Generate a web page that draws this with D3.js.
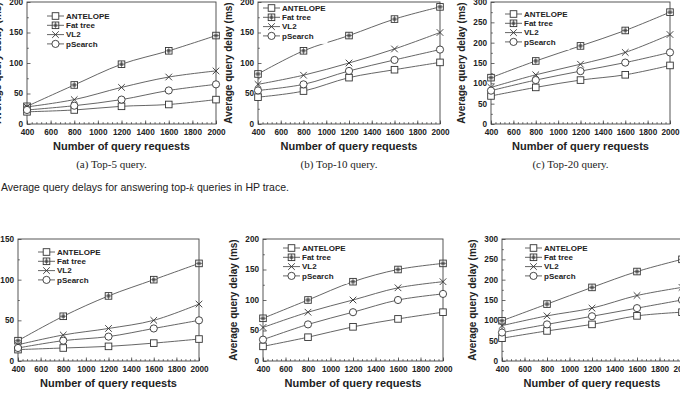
<!DOCTYPE html>
<html>
<head>
<meta charset="utf-8">
<script src="https://cdn.jsdelivr.net/npm/d3@7"></script>
<style>
  html, body { margin: 0; padding: 0; background: #fff; }
  svg { display: block; }
  .tick text { font-family: "Liberation Sans", Arial, sans-serif; font-weight: bold; font-size: 8.2px; fill: #222; }
  .tick line { stroke: #444; stroke-width: 0.8; }
  .axis-title { font-family: "Liberation Sans", Arial, sans-serif; font-weight: bold; fill: #222; }
  .legend-text { font-family: "Liberation Sans", Arial, sans-serif; font-weight: bold; font-size: 8px; fill: #222; }
  .caption { font-family: "Liberation Serif", "Times New Roman", serif; font-size: 11px; fill: #222; }
  .fig-caption { font-family: "Liberation Sans", Arial, sans-serif; font-size: 10.5px; fill: #222; }
</style>
</head>
<body>
<div id="chart"></div>
<script>
// Sechs Teilbilder: Abfrageverzögerung über Anzahl der Anfragen

const XS = [400, 800, 1200, 1600, 2000];
const X_TICKS = [400, 600, 800, 1000, 1200, 1400, 1600, 1800, 2000];
const SERIES = ["ANTELOPE", "Fat tree", "VL2", "pSearch"];

// Werte pro Teilbild, Reihenfolge wie SERIES
const hpTop5 = [
  [20, 23, 29, 32, 40],
  [29, 64, 98, 120, 145],
  [28, 40, 60, 77, 87],
  [23, 30, 40, 55, 65]
];
const hpTop10 = [
  [44, 54, 76, 89, 101],
  [82, 120, 145, 172, 192],
  [65, 80, 100, 123, 150],
  [55, 65, 87, 105, 122]
];
const hpTop20 = [
  [69, 90, 108, 121, 144],
  [114, 155, 192, 230, 275],
  [90, 121, 147, 176, 220],
  [82, 108, 130, 151, 176]
];
const row2Top5 = [
  [14, 16, 18, 22, 27],
  [25, 55, 80, 100, 120],
  [20, 32, 40, 50, 70],
  [16, 25, 30, 40, 50]
];
const row2Top10 = [
  [24, 39, 56, 69, 80],
  [70, 100, 130, 150, 160],
  [55, 80, 100, 120, 130],
  [35, 60, 80, 100, 110]
];
const row2Top20 = [
  [56, 74, 90, 111, 120],
  [99, 140, 181, 220, 250],
  [87, 111, 130, 161, 181],
  [70, 90, 110, 130, 150]
];

const Y_MAX = [200, 200, 300, 150, 200, 300];
const CAPTIONS = ["(a) Top-5 query.", "(b) Top-10 query.", "(c) Top-20 query."];
const X_TITLE = "Number of query requests";
const Y_TITLE = "Average query delay (ms)";
const FIG_CAPTION = ["Average query delays for answering top-", "k", " queries in HP trace."];

// Lage der Plotflächen (Pixel)
const layout = [
  { data: hpTop5,    l: 27,  r: 216, t: 2,   b: 124, leg: [20, 14], cap: 0 },
  { data: hpTop10,   l: 258, r: 440, t: 2,   b: 124, leg: [5, 6],   cap: 1 },
  { data: hpTop20,   l: 491, r: 670, t: 2,   b: 124, leg: [14, 12], cap: 2 },
  { data: row2Top5,  l: 18,  r: 199, t: 239, b: 361, leg: [20, 13] },
  { data: row2Top10, l: 263, r: 443, t: 239, b: 361, leg: [20, 9] },
  { data: row2Top20, l: 502, r: 682, t: 239, b: 361, leg: [23, 9] }
];

const W = 680, H = 395;
const svg = d3.select("#chart").append("svg")
  .attr("width", W).attr("height", H)
  .attr("viewBox", `0 0 ${W} ${H}`);

const LINE_COLOR = "#555";
const MARK_COLOR = "#333";
const fmt = d3.format("d");

function drawMarker(g, k, x, y) {
  const s = 3.3;
  const m = g.append("g").attr("transform", `translate(${x},${y})`)
    .attr("fill", "#fff").attr("stroke", MARK_COLOR).attr("stroke-width", 0.9);
  if (k === 0) {
    m.append("rect").attr("x", -s).attr("y", -s).attr("width", 2 * s).attr("height", 2 * s);
  } else if (k === 1) {
    m.append("rect").attr("x", -s).attr("y", -s).attr("width", 2 * s).attr("height", 2 * s);
    m.append("rect").attr("x", -1.8).attr("y", -1.8).attr("width", 3.6).attr("height", 3.6)
      .attr("fill", "#888").attr("stroke", "none");
    m.append("path").attr("d", `M${-s},0H${s}M0,${-s}V${s}`).attr("stroke-width", 0.6);
  } else if (k === 2) {
    m.append("path").attr("d", `M${-s},${-s}L${s},${s}M${-s},${s}L${s},${-s}`).attr("fill", "none");
  } else {
    m.append("circle").attr("r", s + 0.3);
  }
}

const lineGen = d3.line().curve(d3.curveCatmullRom.alpha(0.5));

layout.forEach((p, idx) => {
  const x = d3.scaleLinear().domain([400, 2000]).range([p.l, p.r]);
  const y = d3.scaleLinear().domain([0, Y_MAX[idx]]).range([p.b, p.t]);
  const g = svg.append("g");
  const yTicks = d3.range(0, Y_MAX[idx] + 1, 50);

  // Nebenstriche
  g.append("g").attr("transform", `translate(0,${p.b})`)
    .call(d3.axisBottom(x).tickValues(d3.range(400, 2001, 40)).tickSize(-1.8).tickFormat(""))
    .call(a => a.select(".domain").remove());
  g.append("g").attr("transform", `translate(${p.l},0)`)
    .call(d3.axisLeft(y).tickValues(d3.range(25, Y_MAX[idx], 50)).tickSize(-1.8).tickFormat(""))
    .call(a => a.select(".domain").remove());

  // Achsen
  g.append("g").attr("transform", `translate(0,${p.b})`)
    .call(d3.axisBottom(x).tickValues(X_TICKS).tickSize(-3.5).tickPadding(5).tickFormat(fmt))
    .call(a => a.select(".domain").remove());
  g.append("g").attr("transform", `translate(${p.l},0)`)
    .call(d3.axisLeft(y).tickValues(yTicks).tickSize(-3.5).tickPadding(4).tickFormat(fmt))
    .call(a => a.select(".domain").remove())
    .selectAll("text").attr("dy", "0.3em");

  // Rahmen
  g.append("rect")
    .attr("x", p.l).attr("y", p.t)
    .attr("width", p.r - p.l).attr("height", p.b - p.t)
    .attr("fill", "none").attr("stroke", "#444").attr("stroke-width", 0.9);

  // Linien
  p.data.forEach((vals) => {
    g.append("path")
      .attr("d", lineGen(vals.map((v, i) => [x(XS[i]), y(v)])))
      .attr("fill", "none").attr("stroke", LINE_COLOR).attr("stroke-width", 0.9);
  });

  // Legende (weißer Hintergrund deckt Linien ab)
  const lg = g.append("g");
  const bg = lg.append("rect").attr("fill", "#fff");
  const lx = p.l + p.leg[0];
  let maxEnd = 0;
  SERIES.forEach((name, k) => {
    const ry = p.t + p.leg[1] + k * 9.3;
    lg.append("line").attr("x1", lx).attr("x2", lx + 17).attr("y1", ry).attr("y2", ry)
      .attr("stroke", LINE_COLOR).attr("stroke-width", 0.9);
    drawMarker(lg, k, lx + 8.5, ry);
    const t = lg.append("text").attr("class", "legend-text")
      .attr("x", lx + 19).attr("y", ry).attr("dy", "0.35em").text(name);
    maxEnd = Math.max(maxEnd, lx + 19 + t.node().getComputedTextLength());
  });
  bg.attr("x", lx - 2).attr("y", p.t + 1)
    .attr("width", maxEnd - lx + 4)
    .attr("height", p.leg[1] + 3 * 9.3 + 7);

  // Markierungen
  p.data.forEach((vals, k) => {
    vals.forEach((v, i) => drawMarker(g, k, x(XS[i]), y(v)));
  });

  // Achsentitel
  g.append("text").attr("class", "axis-title")
    .attr("x", (p.l + p.r) / 2).attr("y", p.b + 26)
    .attr("text-anchor", "middle").attr("font-size", 11).text(X_TITLE);
  g.append("text").attr("class", "axis-title")
    .attr("transform", `translate(${p.l - 26},${(p.t + p.b) / 2}) rotate(-90)`)
    .attr("text-anchor", "middle").attr("font-size", 10).text(Y_TITLE);

  if (p.cap !== undefined) {
    g.append("text").attr("class", "caption")
      .attr("x", (p.l + p.r) / 2 - 10).attr("y", p.b + 44)
      .attr("text-anchor", "middle").text(CAPTIONS[p.cap]);
  }
});

const fc = svg.append("text").attr("class", "fig-caption").attr("x", 1).attr("y", 191);
fc.append("tspan").text(FIG_CAPTION[0]);
fc.append("tspan").attr("font-family", "Liberation Serif, serif").attr("font-style", "italic").text(FIG_CAPTION[1]);
fc.append("tspan").text(FIG_CAPTION[2]);
</script>
</body>
</html>
